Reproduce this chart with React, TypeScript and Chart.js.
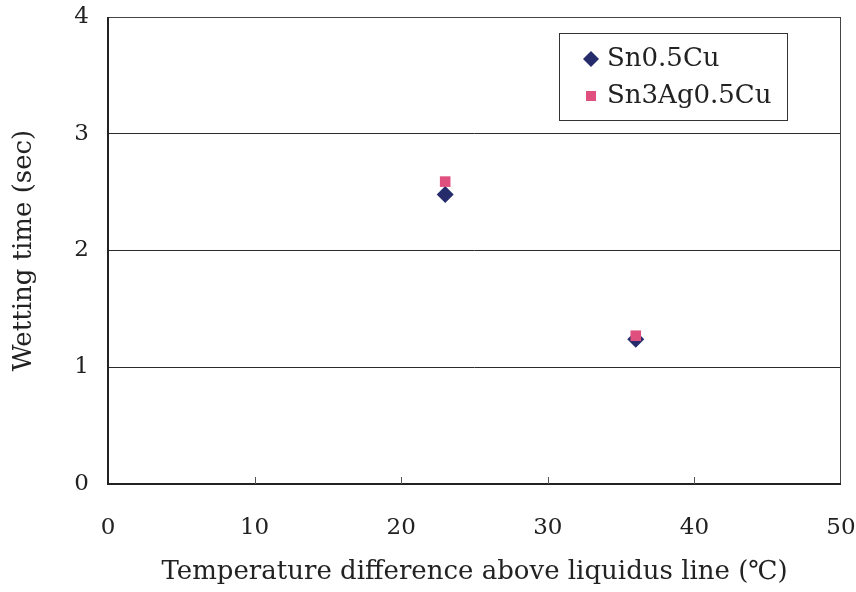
import React, { useEffect, useRef } from "react";
import { Chart, registerables } from "chart.js";

Chart.register(...registerables);

const seriesNames = ["Sn0.5Cu", "Sn3Ag0.5Cu"];
const snCuX = [23, 36];
const snCuY = [2.48, 1.24];
const snAgCuX = [23, 36];
const snAgCuY = [2.59, 1.27];
const xTicks = [0, 10, 20, 30, 40, 50];
const yTicks = [0, 1, 2, 3, 4];
const xTitle = "Temperature difference above liquidus line (\u2103)";
const yTitle = "Wetting time (sec)";

const NAVY = "#262C6B";
const PINK = "#E0507E";
const FONT = "'DejaVu Serif', serif";

const framePlugin = {
  id: "frame",
  afterDraw(chart: any) {
    const { ctx, chartArea: a, scales } = chart;
    ctx.save();
    ctx.strokeStyle = "#444";
    ctx.lineWidth = 1;
    ctx.beginPath();
    ctx.moveTo(a.left, a.top + 0.5);
    ctx.lineTo(a.right - 0.5, a.top + 0.5);
    ctx.lineTo(a.right - 0.5, a.bottom);
    ctx.stroke();
    ctx.strokeStyle = "#222";
    ctx.lineWidth = 2;
    ctx.beginPath();
    ctx.moveTo(a.left, a.top);
    ctx.lineTo(a.left, a.bottom);
    ctx.lineTo(a.right, a.bottom);
    ctx.stroke();
    ctx.lineWidth = 1;
    ctx.strokeStyle = "#555";
    xTicks.forEach((v) => {
      if (v === xTicks[0] || v === xTicks[xTicks.length - 1]) return;
      const px = Math.round(scales.x.getPixelForValue(v)) + 0.5;
      ctx.beginPath();
      ctx.moveTo(px, a.bottom);
      ctx.lineTo(px, a.bottom - 7);
      ctx.stroke();
    });
    // legend
    const lx = a.left + 451;
    const ly = a.top + 16;
    const lw = 228;
    const lh = 87;
    ctx.fillStyle = "#fff";
    ctx.fillRect(lx, ly, lw, lh);
    ctx.strokeStyle = "#333";
    ctx.lineWidth = 1;
    ctx.strokeRect(lx + 0.5, ly + 0.5, lw, lh);
    ctx.font = `26px ${FONT}`;
    ctx.textBaseline = "middle";
    const rows = [ly + 26, ly + 63];
    ctx.fillStyle = NAVY;
    ctx.beginPath();
    const dx = lx + 32, dy = rows[0];
    ctx.moveTo(dx, dy - 8);
    ctx.lineTo(dx + 8, dy);
    ctx.lineTo(dx, dy + 8);
    ctx.lineTo(dx - 8, dy);
    ctx.closePath();
    ctx.fill();
    ctx.fillStyle = PINK;
    ctx.fillRect(lx + 27, rows[1] - 5, 10, 10);
    ctx.fillStyle = "#222";
    ctx.fillText(seriesNames[0], lx + 48, rows[0]);
    ctx.fillText(seriesNames[1], lx + 48, rows[1]);
    ctx.restore();
  },
};

export default function App() {
  const ref = useRef<HTMLCanvasElement>(null);
  useEffect(() => {
    document.body.style.margin = "0";
    const chart = new Chart(ref.current!, {
      type: "scatter",
      data: {
        datasets: [
          {
            label: seriesNames[1],
            data: snAgCuX.map((x, i) => ({ x, y: snAgCuY[i] })),
            pointStyle: "rect",
            pointRadius: 7.5,
            pointHoverRadius: 7.5,
            backgroundColor: PINK,
            borderWidth: 0,
            order: 0,
          },
          {
            label: seriesNames[0],
            data: snCuX.map((x, i) => ({ x, y: snCuY[i] })),
            pointStyle: "rectRot",
            pointRadius: 8.5,
            pointHoverRadius: 8.5,
            backgroundColor: NAVY,
            borderWidth: 0,
            order: 1,
          },
        ],
      },
      options: {
        animation: false,
        responsive: false,
        maintainAspectRatio: false,
        layout: { padding: { left: 0, right: 15, top: 17, bottom: 0 } },
        plugins: { legend: { display: false }, tooltip: { enabled: false } },
        scales: {
          x: {
            type: "linear",
            min: 0,
            max: 50,
            afterBuildTicks: (s: any) => {
              s.ticks = xTicks.map((v) => ({ value: v }));
            },
            afterFit: (s: any) => {
              s.height = 108;
              s.paddingLeft = 0;
              s.paddingRight = 0;
            },
            grid: { display: false, drawTicks: false },
            border: { display: false },
            ticks: {
              color: "#222",
              padding: 30,
              font: { family: FONT, size: 23 },
            },
            title: {
              display: true,
              text: xTitle,
              color: "#222",
              font: { family: FONT, size: 26 },
              padding: { top: 0, bottom: 4 },
            },
          },
          y: {
            type: "linear",
            min: 0,
            max: 4,
            afterBuildTicks: (s: any) => {
              s.ticks = yTicks.map((v) => ({ value: v }));
            },
            afterFit: (s: any) => {
              s.width = 108;
              s.paddingTop = 0;
              s.paddingBottom = 0;
            },
            grid: { color: "#2a2a2a", lineWidth: 1, drawTicks: false },
            border: { display: false },
            ticks: {
              color: "#222",
              padding: 19,
              font: { family: FONT, size: 23 },
            },
            title: {
              display: true,
              text: yTitle,
              color: "#222",
              font: { family: FONT, size: 26 },
              padding: { top: 9, bottom: 0 },
            },
          },
        },
      },
      plugins: [framePlugin],
    });
    return () => chart.destroy();
  }, []);
  return (
    <div style={{ position: "absolute", left: 0, top: 0, width: 856, height: 592, background: "#fff" }}>
      <canvas ref={ref} width={856} height={592} />
    </div>
  );
}
